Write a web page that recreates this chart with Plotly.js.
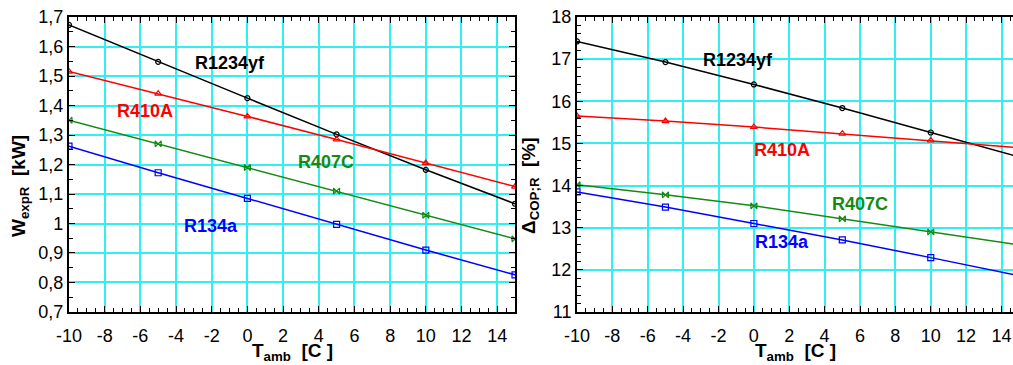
<!DOCTYPE html>
<html><head><meta charset="utf-8">
<script src="https://cdn.plot.ly/plotly-3.0.1.min.js"></script>
<style>html,body{margin:0;padding:0;background:#fff}#c{width:1013px;height:365px}</style>
</head><body><div id="c"></div>
<script>
const tamb = [-10, -5, 0, 5, 10, 15];
const refrigerants = ['R1234yf', 'R410A', 'R407C', 'R134a'];
const xTickVals = [-10, -8, -6, -4, -2, 0, 2, 4, 6, 8, 10, 12, 14];
const xTickText = ['-10', '-8', '-6', '-4', '-2', '0', '2', '4', '6', '8', '10', '12', '14'];
// Left: W_expR [kW]
const wR1234yf = [1.673, 1.548, 1.425, 1.302, 1.182, 1.067];
const wR410A   = [1.515, 1.440, 1.363, 1.285, 1.205, 1.125];
const wR407C   = [1.350, 1.270, 1.190, 1.110, 1.028, 0.948];
const wR134a   = [1.262, 1.172, 1.085, 0.997, 0.910, 0.826];
// Right: Delta COP;R [%]
const dR1234yf = [17.42, 16.93, 16.40, 15.84, 15.26, 14.68];
const dR410A   = [15.65, 15.53, 15.39, 15.23, 15.07, 14.90];
const dR407C   = [14.02, 13.78, 13.52, 13.21, 12.90, 12.59];
const dR134a   = [13.85, 13.49, 13.10, 12.71, 12.29, 11.86];

const colors = ['#000000', '#ff0000', '#138a13', '#0000ff'];
const symbols = ['circle-open', 'triangle-up-open', 'bowtie-open', 'square-open'];
const sizes = [5, 6, 6, 6];
const leftSeries = [wR1234yf, wR410A, wR407C, wR134a];
const rightSeries = [dR1234yf, dR410A, dR407C, dR134a];

const traces = [];
leftSeries.forEach((ys, i) => traces.push({x: tamb, y: ys, xaxis: 'x', yaxis: 'y', mode: 'lines+markers',
  line: {color: colors[i], width: 1.5}, marker: {symbol: symbols[i], size: sizes[i], color: colors[i], line: {width: 1.2, color: colors[i]}}, name: refrigerants[i]}));
rightSeries.forEach((ys, i) => traces.push({x: tamb, y: ys, xaxis: 'x2', yaxis: 'y2', mode: 'lines+markers',
  line: {color: colors[i], width: 1.5}, marker: {symbol: symbols[i], size: sizes[i], color: colors[i], line: {width: 1.2, color: colors[i]}}, name: refrigerants[i]}));

const F = 'Liberation Sans, Arial, Helvetica, sans-serif';
const tickfont = {family: F, size: 18, color: '#000'};
const gridc = '#33f0f0';
const common = {showline: true, linecolor: '#000', linewidth: 2, ticks: 'inside', ticklen: 6, tickcolor: '#000',
  showgrid: true, gridcolor: gridc, gridwidth: 2, zeroline: false, tickfont: tickfont};
const xcommon = Object.assign({}, common, {tickmode: 'array', tickvals: xTickVals, ticktext: xTickText, ticklabelstandoff: 6, mirror: 'allticks',
  minor: {dtick: 0.5, tick0: 0, ticks: 'inside', ticklen: 4, tickcolor: '#000', showgrid: false}});

function ann(x, y, text, color, size, angle) {
  return {xref: 'paper', yref: 'paper', x: x / 1013, y: 1 - y / 365, xanchor: 'center', yanchor: 'middle', text: text,
    textangle: angle || 0, showarrow: false, font: {family: F, size: size, color: color}};
}

const layout = {
  width: 1013, height: 365, margin: {l: 0, r: 0, t: 0, b: 0}, showlegend: false,
  paper_bgcolor: '#fff', plot_bgcolor: '#fff', separators: ', ',
  font: {family: F},
  xaxis: Object.assign({}, xcommon, {domain: [0.0681, 0.5084], range: [-10, 15], anchor: 'y'}),
  yaxis: Object.assign({}, common, {domain: [0.1452, 0.9534], range: [0.7, 1.7], dtick: 0.1, tick0: 0.7, mirror: 'allticks',
    minor: {dtick: 0.05, ticks: 'inside', ticklen: 4, tickcolor: '#000', showgrid: false}, anchor: 'x'}),
  xaxis2: Object.assign({}, xcommon, {domain: [0.5696, 1.0], range: [-10, 14.65], anchor: 'y2'}),
  yaxis2: Object.assign({}, common, {domain: [0.1452, 0.9534], range: [11, 18], dtick: 1, tick0: 11, mirror: false,
    minor: {dtick: 0.2, ticks: 'inside', ticklen: 4, tickcolor: '#000', showgrid: false}, anchor: 'x2'}),
  annotations: [
    ann(20, 186, '<b>W<sub>expR</sub>  [kW]</b>', '#000', 19, -90),
    ann(530, 186, '<b>Δ<sub>COP;R</sub>  [%]</b>', '#000', 19, -90),
    ann(292, 352, '<b>T<sub>amb</sub>  [C ]</b>', '#000', 19),
    ann(795, 352, '<b>T<sub>amb</sub>  [C ]</b>', '#000', 19),
    ann(230, 63, '<b>R1234yf</b>', colors[0], 18),
    ann(145, 111, '<b>R410A</b>', colors[1], 18),
    ann(326, 162, '<b>R407C</b>', colors[2], 18),
    ann(211, 226, '<b>R134a</b>', colors[3], 18),
    ann(738, 60, '<b>R1234yf</b>', colors[0], 18),
    ann(782, 150, '<b>R410A</b>', colors[1], 18),
    ann(860, 204, '<b>R407C</b>', colors[2], 18),
    ann(782, 242, '<b>R134a</b>', colors[3], 18)
  ]
};
Plotly.newPlot('c', traces, layout, {staticPlot: true});
</script></body></html>
